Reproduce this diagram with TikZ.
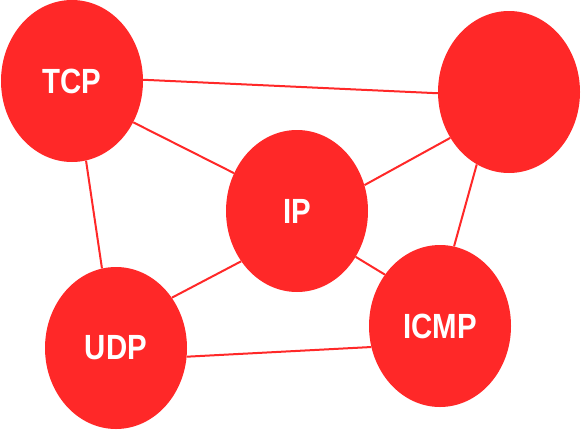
\documentclass[tikz,border=0pt]{standalone}
\usepackage{fontspec}
\setmainfont{Liberation Sans}
\usetikzlibrary{shapes.geometric}
\definecolor{netred}{HTML}{FF2828}
\tikzset{
  proto/.style={ellipse, fill=netred, inner sep=0pt, minimum width=142pt, minimum height=162pt,
    text=white, font=\fontsize{35}{35}\selectfont\bfseries},
  link/.style={draw=netred, line width=2pt}
}
\newcommand{\lbl}[1]{\scalebox{0.84}[1]{#1}}
\begin{document}
\begin{tikzpicture}[x=1pt,y=-1pt]
\useasboundingbox (0,0) rectangle (581,429);
\node[proto] (tcp) at (72,81) {\lbl{TCP}};
\node[proto] (tr) at (509,92) {};
\node[proto] (ip) at (297,211) {\lbl{IP}};
\node[proto] (udp) at (116,348) {\lbl{UDP}};
\node[proto] (icmp) at (440,326) {\lbl{ICMP}};
\draw[link] (tcp.1) -- (tr.181);
\draw[link] (tcp.-34) -- (ip.149);
\draw[link] (tcp.-80) -- (udp.100);
\draw[link] (tr.218) -- (ip.21);
\draw[link] (tr.246) -- (icmp.80);
\draw[link] (ip.222) -- (udp.42);
\draw[link] (ip.-38) -- (icmp.137);
\draw[link] (udp.-7) -- (icmp.197);
\end{tikzpicture}
\end{document}
